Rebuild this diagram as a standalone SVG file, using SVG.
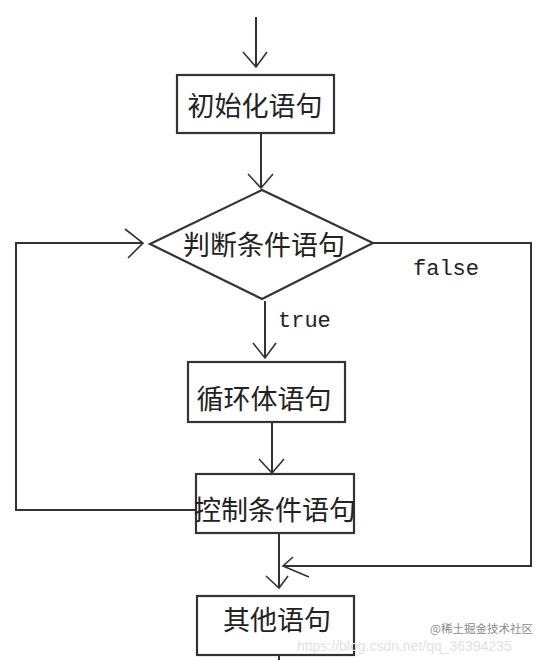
<svg xmlns="http://www.w3.org/2000/svg" width="550" height="660" viewBox="0 0 550 660">
<style>
.ln{fill:none;stroke:#333;stroke-width:2;stroke-linejoin:miter}
.hd{fill:none;stroke:#333;stroke-width:1.6}
.bx{fill:#fff;stroke:#333;stroke-width:2.2}
.cn{font-family:"Noto Sans CJK SC","Noto Sans",sans-serif;font-size:27px;fill:#222;text-anchor:middle;dominant-baseline:central}
.mono{font-family:"Liberation Mono","DejaVu Sans Mono",monospace;font-size:22px;fill:#222}
</style>
<rect width="550" height="660" fill="#fff"/>
<g id="connectors">
<line class="ln" x1="256" y1="17" x2="256" y2="67"/>
<polyline class="hd" points="243,52 256,67 267,52"/>
<line class="ln" x1="261" y1="133" x2="261" y2="188"/>
<polyline class="hd" points="248,174 261,188 273,174"/>
<line class="ln" x1="265" y1="301" x2="265" y2="358"/>
<polyline class="hd" points="253,343 265,358 276,343"/>
<line class="ln" x1="272" y1="422" x2="272" y2="473"/>
<polyline class="hd" points="259,459 272,473 284,459"/>
<line class="ln" x1="279" y1="533" x2="279" y2="588"/>
<polyline class="hd" points="266,576 279,588 288,576"/>
<line class="ln" x1="279" y1="655" x2="279" y2="660"/>
<polyline class="ln" points="195,510 16,510 16,243 143,243"/>
<polyline class="hd" points="125,229 143,243 128,258"/>
<polyline class="ln" points="373,243 531,243 531,566 283,566"/>
<polyline class="hd" points="293,557 283,566 309,577"/>
<text class="mono" x="413" y="275">false</text>
<text class="mono" x="278" y="327">true</text>
</g>
<g id="init">
<rect class="bx" x="177" y="75" width="157" height="58"/>
<text class="cn" x="255" y="104">初始化语句</text>
</g>
<g id="cond">
<polygon class="bx" points="150,244 262,190 373,243 262,299"/>
<text class="cn" x="264" y="243">判断条件语句</text>
</g>
<g id="body">
<rect class="bx" x="188" y="362" width="157" height="60"/>
<text class="cn" x="264" y="397">循环体语句</text>
</g>
<g id="control">
<rect class="bx" x="196" y="474" width="158" height="59"/>
<text class="cn" x="275" y="508">控制条件语句</text>
</g>
<g id="other">
<rect class="bx" x="197" y="596" width="157" height="59"/>
<text class="cn" x="277" y="618">其他语句</text>
</g>
<text x="297" y="651" font-family="Liberation Sans,Arial,sans-serif" font-size="14" fill="#e2e2e2">https://blog.csdn.net/qq_36394235</text>
<text x="430" y="633" font-family="Noto Sans CJK SC,sans-serif" font-size="11.5" fill="#8a8a8a">@稀土掘金技术社区</text>
</svg>
